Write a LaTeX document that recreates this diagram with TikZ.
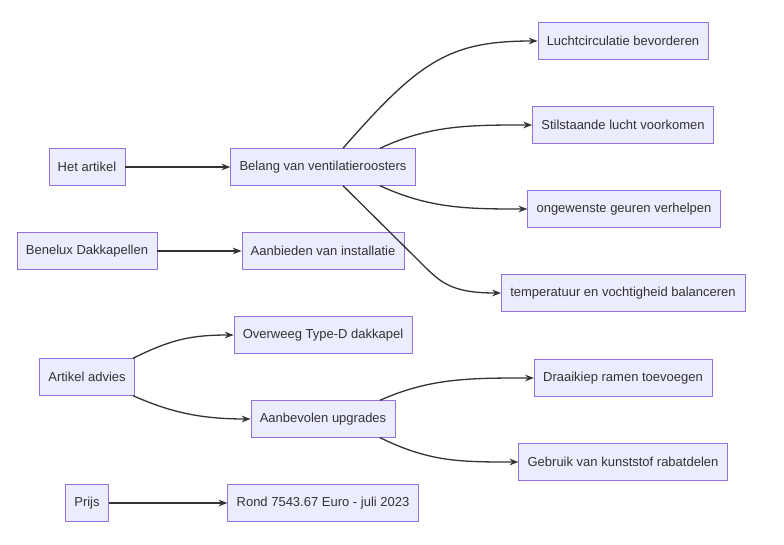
\documentclass[tikz,border=0pt]{standalone}
\usepackage{fontspec}
\setmainfont{Liberation Sans}
\usetikzlibrary{arrows.meta, calc}
\definecolor{boxfill}{HTML}{ECECFF}
\definecolor{boxline}{HTML}{9370DB}
\definecolor{edge}{HTML}{333333}

\begin{document}
\begin{tikzpicture}[
  x=1pt, y=-1pt,
  % --- styles ------------------------------------------------------------
  box/.style={
    rectangle, draw=boxline, fill=boxfill, text=edge,
    minimum height=37pt, inner xsep=9pt,
    font=\fontsize{13}{15}\selectfont
  },
  flow/.style={-Stealth, edge, line width=1.3pt}
]
\useasboundingbox (0,0) rectangle (784,545);

% --------------------- left column --------------------------------------
\node[box] (art) at (87,167) {Het artikel};
\node[box] (ben) at (87,251) {Benelux Dakkapellen};
\node[box] (adv) at (87,377) {Artikel advies};
\node[box] (prs) at (87,503) {Prijs};

% --------------------- middle column ------------------------------------
\node[box] (bel) at (323,167) {Belang van ventilatieroosters};
\node[box] (aan) at (323,251) {Aanbieden van installatie};
\node[box] (ovw) at (323,335) {Overweeg Type-D dakkapel};
\node[box] (upg) at (323,419) {Aanbevolen upgrades};
\node[box] (rnd) at (323,503) {Rond 7543.67 Euro - juli 2023};

% --------------------- right column -------------------------------------
\node[box] (luc) at (623,41) {Luchtcirculatie bevorderen};
\node[box] (sti) at (623,125) {Stilstaande lucht voorkomen};
\node[box] (geu) at (624,209) {ongewenste geuren verhelpen};
\node[box] (tmp) at (623,293) {temperatuur en vochtigheid balanceren};
\node[box] (drk) at (623,378) {Draaikiep ramen toevoegen};
\node[box] (geb) at (623,462) {Gebruik van kunststof rabatdelen};

% --------------------- straight arrows ----------------------------------
\draw[flow] (art) -- (bel);
\draw[flow] (ben) -- (aan);
\draw[flow] (prs) -- (rnd);

% --------------------- curved arrows ------------------------------------
\draw[flow] ($(bel.north)+(20,0)$) .. controls (420,60) and (450,41) .. (luc.west);
\draw[flow] ($(bel.north)+(57,0)$) .. controls (430,125) and (470,125) .. (sti.west);
\draw[flow] ($(bel.south)+(57,0)$) .. controls (430,209) and (470,209) .. (geu.west);
\draw[flow] ($(bel.south)+(20,0)$) -- (420,262) .. controls (440,282) and (450,293) .. (tmp.west);
\draw[flow] ($(adv.north)+(46,0)$) .. controls (170,340) and (190,335) .. (ovw.west);
\draw[flow] ($(adv.south)+(46,0)$) .. controls (170,412) and (200,419) .. (upg.west);
\draw[flow] ($(upg.north)+(57,0)$) .. controls (430,378) and (470,378) .. (drk.west);
\draw[flow] ($(upg.south)+(57,0)$) .. controls (430,462) and (460,462) .. (geb.west);

\end{tikzpicture}
\end{document}
